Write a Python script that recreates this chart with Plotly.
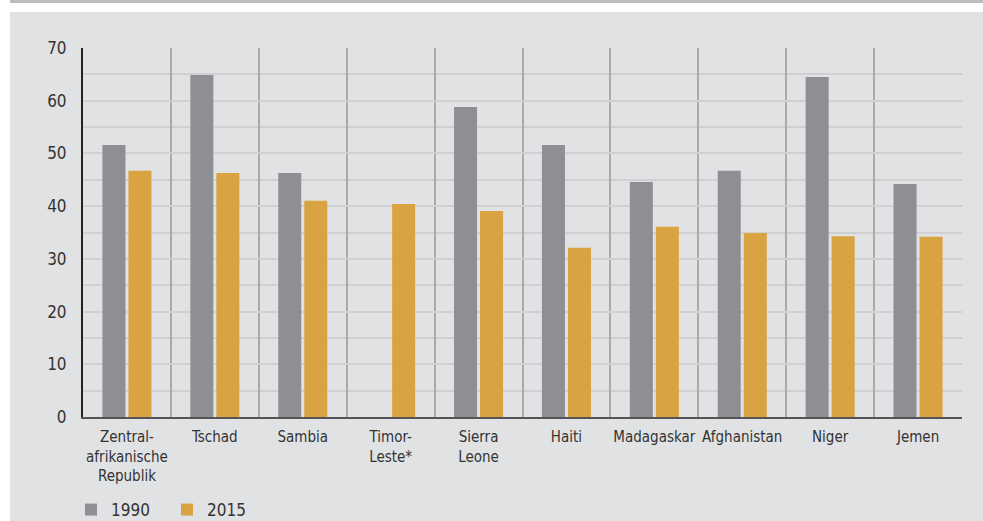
import plotly.graph_objects as go

categories = ["Zentral-<br>afrikanische<br>Republik", "Tschad", "Sambia", "Timor-<br>Leste*",
              "Sierra<br>Leone", "Haiti", "Madagaskar", "Afghanistan", "Niger", "Jemen"]
values_1990 = [51.6, 64.9, 46.3, None, 58.8, 51.6, 44.6, 46.7, 64.5, 44.2]
values_2015 = [46.7, 46.3, 41.0, 40.4, 39.1, 32.1, 36.1, 34.9, 34.3, 34.2]
y_ticks = [0, 10, 20, 30, 40, 50, 60, 70]

FONT = "DejaVu Sans Condensed, sans-serif"
BG = "#e1e2e4"
TXT = "#333333"

fig = go.Figure()
fig.add_trace(go.Bar(name="1990", x=categories, y=values_1990, marker_color="#8e8f92",
                     marker_line_width=0))
fig.add_trace(go.Bar(name="2015", x=categories, y=values_2015, marker_color="#d9a342",
                     marker_line_width=0))

# page background and top band (paper coords relative to plot area 83..962 x 48..417)
W, H = 879.0, 369.0
def px(x):
    return (x - 83) / W
def py(y):
    return (417 - y) / H

fig.add_shape(type="rect", xref="paper", yref="paper", x0=px(10), x1=px(990), y0=py(12), y1=py(530),
              fillcolor=BG, line_width=0, layer="below")
fig.add_shape(type="rect", xref="paper", yref="paper", x0=px(10), x1=px(990), y0=py(-5), y1=py(3),
              fillcolor="#bcbdbf", line_width=0, layer="below")

fig.update_layout(
    width=983, height=521,
    margin=dict(l=83, r=21, t=48, b=104, autoexpand=False),
    paper_bgcolor="white",
    plot_bgcolor=BG,
    barmode="group",
    bargap=0.408,
    bargroupgap=0.115,
    font=dict(family=FONT, color=TXT, size=15),
    showlegend=True,
    legend=dict(orientation="h", x=px(71), xanchor="left", y=py(510), yanchor="middle",
                font=dict(size=17, family=FONT, color=TXT), bgcolor="rgba(0,0,0,0)",
                entrywidth=51, entrywidthmode="pixels", itemwidth=30),
)
fig.update_xaxes(
    tickson="boundaries", showgrid=True, gridcolor="#a9aaac", gridwidth=2,
    showline=True, linecolor="#555555", linewidth=2,
    ticks="", tickangle=0, automargin=False, ticklabelstandoff=5,
    tickfont=dict(size=15, family=FONT, color=TXT),
    range=[-0.5, 9.5], fixedrange=True,
)
fig.update_yaxes(
    range=[0, 70], tickvals=y_ticks, ticktext=[str(v) for v in y_ticks],
    showgrid=True, gridcolor="#cfd0d2", gridwidth=2,
    minor=dict(dtick=5, tick0=0, showgrid=True, gridcolor="#cfd0d2", gridwidth=2),
    showline=True, linecolor="#222222", linewidth=2, automargin=False,
    ticks="", ticklabelstandoff=11, tickfont=dict(size=17, family=FONT, color=TXT),
    zeroline=False, fixedrange=True,
)

fig.write_html("out.html")
